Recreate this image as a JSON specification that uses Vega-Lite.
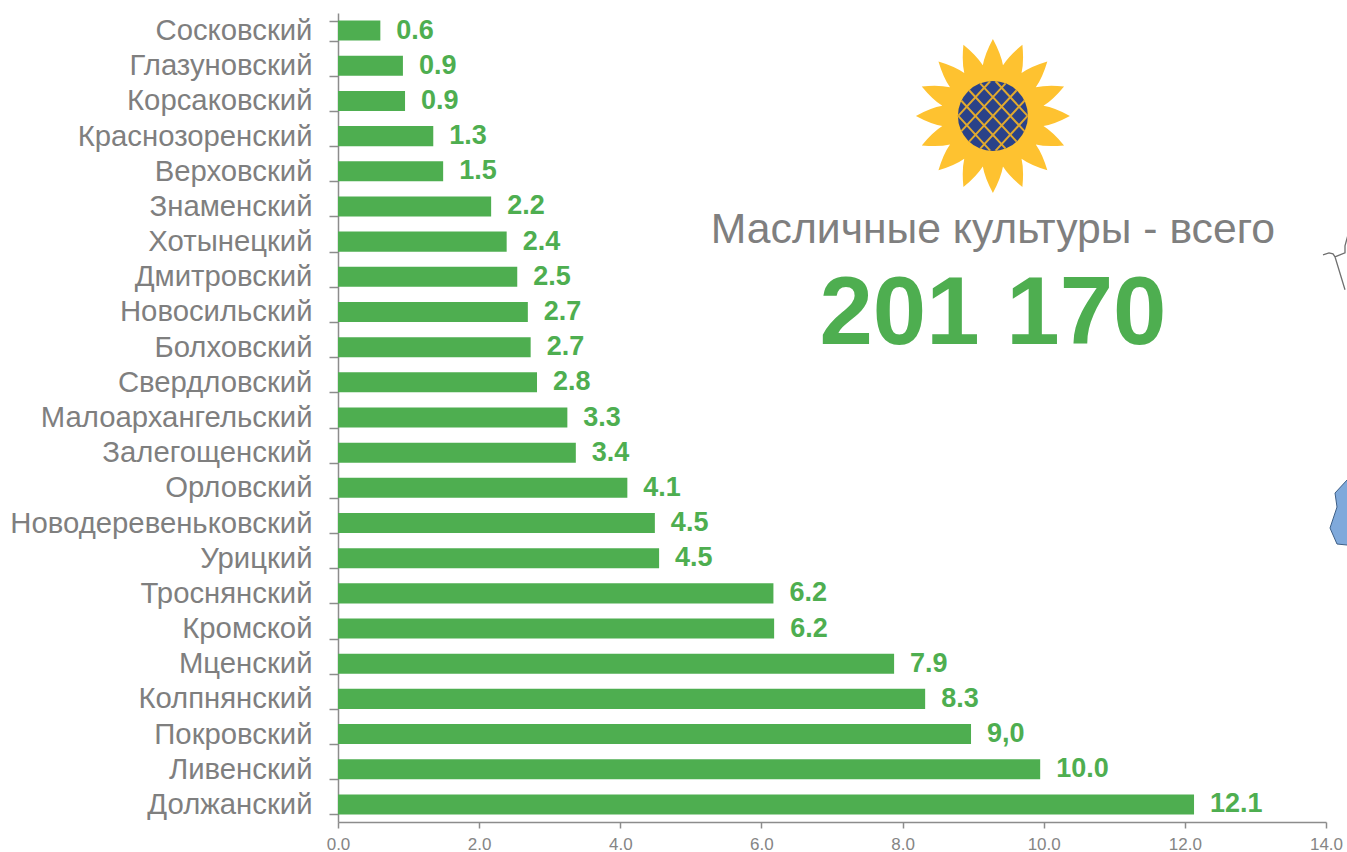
{
"$schema":"https://vega.github.io/schema/vega-lite/v6.json",
"autosize":{"type":"none"},
"padding":{"left":338,"top":13,"right":21,"bottom":30},
"width":988,"height":809,
"background":"white",
"config":{"view":{"stroke":null},"font":"Liberation Sans"},
"datasets":{"rows":[
{"name":"Сосковский","value":0.6,"label":"0.6"},
{"name":"Глазуновский","value":0.92,"label":"0.9"},
{"name":"Корсаковский","value":0.95,"label":"0.9"},
{"name":"Краснозоренский","value":1.35,"label":"1.3"},
{"name":"Верховский","value":1.49,"label":"1.5"},
{"name":"Знаменский","value":2.17,"label":"2.2"},
{"name":"Хотынецкий","value":2.39,"label":"2.4"},
{"name":"Дмитровский","value":2.54,"label":"2.5"},
{"name":"Новосильский","value":2.69,"label":"2.7"},
{"name":"Болховский","value":2.73,"label":"2.7"},
{"name":"Свердловский","value":2.82,"label":"2.8"},
{"name":"Малоархангельский","value":3.25,"label":"3.3"},
{"name":"Залегощенский","value":3.37,"label":"3.4"},
{"name":"Орловский","value":4.1,"label":"4.1"},
{"name":"Новодеревеньковский","value":4.49,"label":"4.5"},
{"name":"Урицкий","value":4.55,"label":"4.5"},
{"name":"Троснянский","value":6.17,"label":"6.2"},
{"name":"Кромской","value":6.18,"label":"6.2"},
{"name":"Мценский","value":7.88,"label":"7.9"},
{"name":"Колпнянский","value":8.32,"label":"8.3"},
{"name":"Покровский","value":8.97,"label":"9,0"},
{"name":"Ливенский","value":9.95,"label":"10.0"},
{"name":"Должанский","value":12.13,"label":"12.1"}
]},
"layer":[
{"data":{"name":"rows"},
 "mark":{"type":"bar","color":"#4EAE50"},
 "encoding":{
  "x":{"field":"value","type":"quantitative","scale":{"domain":[0,14],"nice":false,"zero":true},
   "axis":{"title":null,"values":[0,2,4,6,8,10,12,14],"format":".1f","grid":false,"labelFontSize":17,"labelColor":"#858585","labelPadding":8,"labelFlush":false,"domainColor":"#8c8c8c","domainWidth":1.5,"tickColor":"#8c8c8c","tickWidth":1.5,"tickSize":6}},
  "y":{"field":"name","type":"ordinal","sort":null,
   "scale":{"type":"band","paddingInner":0.43,"paddingOuter":0.215,"domain":["Сосковский","Глазуновский","Корсаковский","Краснозоренский","Верховский","Знаменский","Хотынецкий","Дмитровский","Новосильский","Болховский","Свердловский","Малоархангельский","Залегощенский","Орловский","Новодеревеньковский","Урицкий","Троснянский","Кромской","Мценский","Колпнянский","Покровский","Ливенский","Должанский"]},
   "axis":{"title":null,"grid":false,"tickBand":"extent","labelFontSize":29.3,"labelColor":"#7f7f7f","labelPadding":17,"labelLimit":340,"domainColor":"#8c8c8c","domainWidth":1.5,"tickColor":"#8c8c8c","tickWidth":1.5,"tickSize":9}}
 }},
{"data":{"name":"rows"},
 "mark":{"type":"text","align":"left","baseline":"middle","dx":16,"fontSize":27,"fontWeight":"bold","color":"#4EAE50"},
 "encoding":{
  "x":{"field":"value","type":"quantitative"},
  "y":{"field":"name","type":"ordinal","sort":null},
  "text":{"field":"label"}
 }},
{"data":{"values":[{"t":"Масличные культуры - всего"}]},
 "mark":{"type":"text","align":"center","baseline":"middle","dy":-12,"fontSize":42.7,"color":"#7f7f7f"},
 "encoding":{"x":{"datum":9.28,"type":"quantitative"},"y":{"datum":"Хотынецкий","type":"ordinal"},"text":{"field":"t"}}},
{"data":{"values":[{"t":"201 170"}]},
 "mark":{"type":"text","align":"center","baseline":"middle","dy":3,"fontSize":96,"fontWeight":"bold","color":"#4EAE50"},
 "encoding":{"x":{"datum":9.28,"type":"quantitative"},"y":{"datum":"Новосильский","type":"ordinal"},"text":{"field":"t"}}},
{"data":{"values":[{"part":"petals"}]},
 "mark":{"type":"point","filled":true,"opacity":1,"color":"#FEC230","size":23716,"yOffset":15,
  "shape":"M1,0Q.803,.106 .657,.131Q.782,.210 .924,.383Q.701,.405 .557,.372Q.643,.493 .707,.707Q.493,.643 .372,.557Q.405,.701 .383,.924Q.210,.782 .131,.657Q.106,.803 0,1Q-.106,.803 -.131,.657Q-.210,.782 -.383,.924Q-.405,.701 -.372,.557Q-.493,.643 -.707,.707Q-.643,.493 -.557,.372Q-.701,.405 -.924,.383Q-.782,.210 -.657,.131Q-.803,.106 -1,0Q-.803,-.106 -.657,-.131Q-.782,-.210 -.924,-.383Q-.701,-.405 -.557,-.372Q-.643,-.493 -.707,-.707Q-.493,-.643 -.372,-.557Q-.405,-.701 -.383,-.924Q-.210,-.782 -.131,-.657Q-.106,-.803 0,-1Q.106,-.803 .131,-.657Q.210,-.782 .383,-.924Q.405,-.701 .372,-.557Q.493,-.643 .707,-.707Q.643,-.493 .557,-.372Q.701,-.405 .924,-.383Q.782,-.210 .657,-.131Q.803,-.106 1,0Z"},
 "encoding":{"x":{"datum":9.28,"type":"quantitative"},"y":{"datum":"Корсаковский","type":"ordinal"}}},
{"data":{"values":[{"part":"disc"}]},
 "mark":{"type":"point","filled":true,"opacity":1,"color":"#2A4289","size":4900,"shape":"circle","yOffset":15},
 "encoding":{"x":{"datum":9.28,"type":"quantitative"},"y":{"datum":"Корсаковский","type":"ordinal"}}},
{"data":{"values":[{"part":"lattice"}]},
 "mark":{"type":"point","filled":false,"opacity":1,"stroke":"#E0A92E","strokeWidth":2,"size":4900,"yOffset":15,
  "shape":"M.679,-.734L-.679,.734M.901,-.434L-.363,.932M-.901,.434L.363,-.932M.99,0L.078,.99M-.99,0L-.078,-.99M-.679,-.734L.679,.734M-.901,-.434L.363,.932M.901,.434L-.363,-.932M-.99,0L-.078,.99M.99,0L.078,-.99"},
 "encoding":{"x":{"datum":9.28,"type":"quantitative"},"y":{"datum":"Корсаковский","type":"ordinal"}}},
{"data":{"values":[{"part":"map outline"}]},
 "mark":{"type":"point","filled":false,"opacity":1,"stroke":"#6f6f6f","strokeWidth":1.3,"size":4,
  "shape":"M-3,-22L3,-24L7,-23L9,-20L19,13M9,-20L19,-24L19,-31L22,-42"},
 "encoding":{"x":{"datum":14,"type":"quantitative"},"y":{"datum":"Дмитровский","type":"ordinal"}}},
{"data":{"values":[{"part":"map region"}]},
 "mark":{"type":"point","filled":true,"opacity":1,"fill":"#7FA9DB","stroke":"#3E5F86","strokeWidth":1,"size":4,
  "shape":"M21,-43L9,-30L11,-16L4,5L11,21L21,22L40,22L40,-43Z"},
 "encoding":{"x":{"datum":14,"type":"quantitative"},"y":{"datum":"Новодеревеньковский","type":"ordinal"}}}
]
}
